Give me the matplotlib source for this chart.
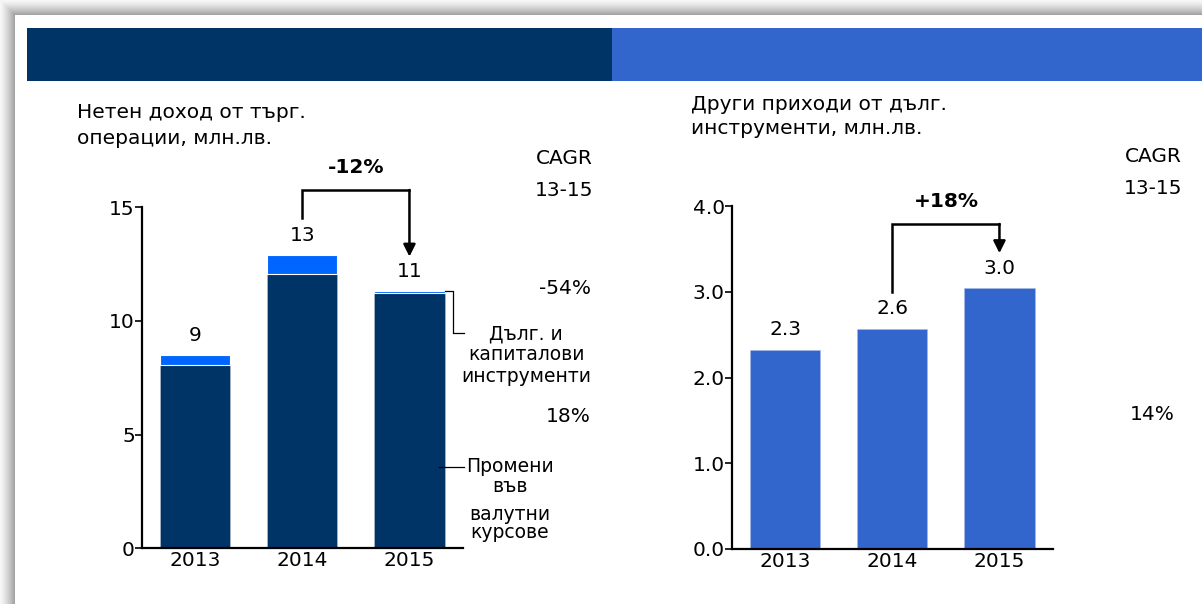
import matplotlib
matplotlib.use("Agg")
import matplotlib.pyplot as plt
from matplotlib.patches import Rectangle
import numpy as np

plt.rcParams['font.family'] = ['DejaVu Sans']

W, H = 1202, 604

# --- data ---
years = ["2013", "2014", "2015"]

# Нетен доход от търг. операции, млн.лв.
fx_changes = [8.06, 12.08, 11.22]      # Промени във валутни курсове
debt_equity = [0.44, 0.82, 0.09]       # Дълг. и капиталови инструменти
left_labels = ["9", "13", "11"]
left_change = "-12%"
left_cagr = ["-54%", "18%"]

# Други приходи от дълг. инструменти, млн.лв.
other_income = [2.32, 2.57, 3.04]
right_labels = ["2.3", "2.6", "3.0"]
right_change = "+18%"
right_cagr = ["14%"]

DARK = "#003366"
BRIGHT = "#0066ff"
MID = "#3366cc"
FS = 14.5
FS_LEG = 13.5

fig = plt.figure(figsize=(W / 100, H / 100), dpi=100)

# background page with a soft shadow on the top and left edges
bg = fig.add_axes([0, 0, 1, 1])
yy, xx = np.mgrid[0:H, 0:W]
t = np.minimum(xx, yy) / 15.0
shade = np.where((xx >= 15) & (yy >= 15), 1.0, 0.97 - 0.36 * t ** 1.3)
bg.imshow(np.dstack([shade] * 3), extent=[0, W, H, 0], aspect="auto", interpolation="bilinear")
bg.set_xlim(0, W)
bg.set_ylim(H, 0)
bg.axis("off")

# header band
bg.add_patch(Rectangle((27, 28), 585, 53, color=DARK, lw=0))
bg.add_patch(Rectangle((612, 28), W - 612, 53, color=MID, lw=0))

# chart titles
bg.text(77, 112.5, "Нетен доход от търг.", fontsize=FS, ha="left", va="center")
bg.text(77, 138, "операции, млн.лв.", fontsize=FS, ha="left", va="center")
bg.text(691, 105, "Други приходи от дълг.", fontsize=FS, ha="left", va="center")
bg.text(691, 129, "инструменти, млн.лв.", fontsize=FS, ha="left", va="center")

# CAGR columns
bg.text(593, 158, "CAGR", fontsize=FS, ha="right", va="center")
bg.text(593, 191, "13-15", fontsize=FS, ha="right", va="center")
bg.text(591, 288, left_cagr[0], fontsize=FS, ha="right", va="center")
bg.text(591, 417, left_cagr[1], fontsize=FS, ha="right", va="center")
bg.text(1182, 157, "CAGR", fontsize=FS, ha="right", va="center")
bg.text(1182, 189, "13-15", fontsize=FS, ha="right", va="center")
bg.text(1175, 415, right_cagr[0], fontsize=FS, ha="right", va="center")

# segment legends
for txt, y in [("Дълг. и", 334), ("капиталови", 354), ("инструменти", 377)]:
    bg.text(526, y, txt, fontsize=FS_LEG, ha="center", va="center")
for txt, y in [("Промени", 466), ("във", 487), ("валутни", 514), ("курсове", 533)]:
    bg.text(510, y, txt, fontsize=FS_LEG, ha="center", va="center")


def px_axes(x0, x1, y_top, y_bot):
    return fig.add_axes([x0 / W, 1 - y_bot / H, (x1 - x0) / W, (y_bot - y_top) / H])


def style(ax, ymax, ticks, fmt):
    ax.set_facecolor("none")
    ax.set_xlim(-0.5, 2.5)
    ax.set_ylim(0, ymax)
    ax.set_yticks(ticks)
    ax.set_yticklabels([fmt.format(v) for v in ticks])
    ax.set_xticks(range(len(years)))
    ax.set_xticklabels(years)
    for s in ["top", "right"]:
        ax.spines[s].set_visible(False)
    for s in ["left", "bottom"]:
        ax.spines[s].set_linewidth(1.6)
    ax.tick_params(axis="y", length=5, width=1.2, pad=0, labelsize=FS)
    ax.tick_params(axis="x", length=0, pad=2, labelsize=FS)


def bracket(ax, y_start, y_top, y_tip, label, y_label):
    ax.plot([1, 1, 2], [y_start, y_top, y_top], color="black", lw=1.8,
            clip_on=False, solid_joinstyle="miter")
    ax.annotate("", xy=(2, y_tip), xytext=(2, y_top),
                arrowprops=dict(arrowstyle="-|>", color="black", lw=1.8,
                                mutation_scale=18, shrinkA=0, shrinkB=0),
                annotation_clip=False)
    ax.text(1.5, y_label, label, fontsize=FS, fontweight="bold",
            ha="center", va="center")


x = np.arange(len(years))
width = 0.655

# left chart: stacked bars
ax1 = px_axes(141.7, 463, 207.3, 548.3)
totals = [a + b for a, b in zip(fx_changes, debt_equity)]
ax1.bar(x, fx_changes, width, color=DARK, edgecolor="#b8c4d4", linewidth=0.4, zorder=2)
ax1.bar(x, debt_equity, width, bottom=fx_changes, color=BRIGHT,
        edgecolor="white", linewidth=0.8, zorder=2)
for i, lab in enumerate(left_labels):
    ax1.text(x[i], totals[i] + 0.63, lab, fontsize=FS, ha="center", va="baseline")
style(ax1, 15, [0, 5, 10, 15], "{:g}")
bracket(ax1, 14.52, 15.76, 12.83, left_change, 16.77)

# leader lines to segment legends
ax1.plot([2 + width / 2, 2.41, 2.41, 2.51], [totals[2], totals[2], 9.46, 9.46],
         color="black", lw=0.9, clip_on=False)
ax1.plot([2.28, 2.51], [3.59, 3.59], color="black", lw=0.9, clip_on=False)

# right chart
ax2 = px_axes(731.7, 1053, 206, 549)
ax2.bar(x, other_income, width, color=MID, edgecolor="#a8bce8", linewidth=0.4, zorder=2)
for i, lab in enumerate(right_labels):
    ax2.text(x[i], other_income[i] + 0.17, lab, fontsize=FS, ha="center", va="baseline")
style(ax2, 4.0, [0.0, 1.0, 2.0, 3.0, 4.0], "{:.1f}")
bracket(ax2, 3.0, 3.79, 3.45, right_change, 4.05)

fig.savefig("out.png", dpi=100)
